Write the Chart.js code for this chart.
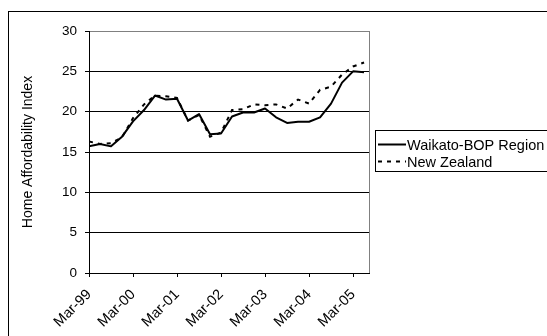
<!DOCTYPE html>
<html>
<head>
<meta charset="utf-8">
<script src="https://cdn.jsdelivr.net/npm/chart.js@4"></script>
<style>
  html, body { margin: 0; padding: 0; background: #fff; }
  canvas { display: block; }
</style>
</head>
<body>
<canvas id="chart" width="547" height="336"></canvas>
<script>
// Quarterly periods, March 1999 to June 2005
const quarters = [
  'Mar-99', 'Jun-99', 'Sep-99', 'Dec-99',
  'Mar-00', 'Jun-00', 'Sep-00', 'Dec-00',
  'Mar-01', 'Jun-01', 'Sep-01', 'Dec-01',
  'Mar-02', 'Jun-02', 'Sep-02', 'Dec-02',
  'Mar-03', 'Jun-03', 'Sep-03', 'Dec-03',
  'Mar-04', 'Jun-04', 'Sep-04', 'Dec-04',
  'Mar-05', 'Jun-05'
];

// Home affordability index by quarter
const waikatoBop = [
  15.7, 16.0, 15.7, 16.9,
  18.8, 20.2, 22.0, 21.5,
  21.6, 18.9, 19.7, 17.2,
  17.3, 19.4, 19.9, 19.9,
  20.4, 19.3, 18.6, 18.75,
  18.75, 19.3, 21.0, 23.6,
  25.0, 24.9
];

const newZealand = [
  16.3, 16.0, 16.1, 16.8,
  19.2, 20.9, 22.0, 21.9,
  21.7, 18.9, 19.6, 16.9,
  17.4, 20.2, 20.3, 20.9,
  20.8, 20.9, 20.4, 21.5,
  21.0, 22.7, 23.1, 24.6,
  25.6, 26.1
];

const seriesNames = ['Waikato-BOP Region', 'New Zealand'];

const FONT = 'Liberation Sans, Arial, Helvetica, sans-serif';
const toPoints = values => values.map((v, i) => ({ x: i, y: v }));

// White page, outer chart frame and grey plot-area border
const framePlugin = {
  id: 'frame',
  beforeDraw(chart) {
    const { ctx, chartArea: a } = chart;
    ctx.save();
    ctx.fillStyle = '#fff';
    ctx.fillRect(0, 0, chart.width, chart.height);
    ctx.strokeStyle = '#000';
    ctx.lineWidth = 1;
    ctx.strokeRect(8.5, 11.5, 600, 400);
    ctx.strokeStyle = '#808080';
    ctx.strokeRect(Math.round(a.left) + 0.5, Math.round(a.top) + 0.5,
                   Math.round(a.right - a.left), Math.round(a.bottom - a.top));
    ctx.restore();
  }
};

// Boxed legend to the right of the plot
const boxLegendPlugin = {
  id: 'boxLegend',
  afterDraw(chart) {
    const { ctx } = chart;
    const box = { x: 375.5, y: 130.5, w: 220, h: 41 };
    ctx.save();
    ctx.strokeStyle = '#000';
    ctx.lineWidth = 1;
    ctx.strokeRect(box.x, box.y, box.w, box.h);
    ctx.font = '14.5px ' + FONT;
    ctx.fillStyle = '#000';
    ctx.textBaseline = 'alphabetic';
    chart.data.datasets.forEach((ds, i) => {
      const baseY = 149.5 + i * 17;
      const midY = baseY - 5;
      ctx.beginPath();
      ctx.lineWidth = ds.borderWidth;
      ctx.strokeStyle = ds.borderColor;
      ctx.setLineDash(ds.borderDash || []);
      ctx.moveTo(378, midY);
      ctx.lineTo(406, midY);
      ctx.stroke();
      ctx.setLineDash([]);
      ctx.fillText(ds.label, 407, baseY);
    });
    ctx.restore();
  }
};

new Chart(document.getElementById('chart'), {
  type: 'line',
  data: {
    datasets: [
      {
        label: seriesNames[0],
        data: toPoints(waikatoBop),
        borderColor: '#000',
        borderWidth: 2,
        pointRadius: 0,
        tension: 0,
        borderJoinStyle: 'round'
      },
      {
        label: seriesNames[1],
        data: toPoints(newZealand),
        borderColor: '#000',
        borderWidth: 2,
        borderDash: [4, 5],
        pointRadius: 0,
        tension: 0
      }
    ]
  },
  options: {
    responsive: false,
    animation: false,
    devicePixelRatio: 1,
    layout: { padding: { top: 31, right: 178, bottom: 0, left: 0 } },
    plugins: {
      legend: { display: false },
      tooltip: { enabled: false }
    },
    scales: {
      x: {
        type: 'linear',
        min: 0,
        max: 25.45,
        // one labelled tick per year (every fourth quarter)
        afterBuildTicks: s => {
          s.ticks = quarters
            .map((q, i) => i)
            .filter(i => i % 4 === 0)
            .map(i => ({ value: i }));
        },
        afterFit: s => { s.height = 63; },
        ticks: {
          autoSkip: false,
          minRotation: 45,
          maxRotation: 45,
          padding: 9,
          color: '#000',
          font: { family: FONT, size: 14.5 },
          callback: v => quarters[v]
        },
        grid: {
          drawOnChartArea: false,
          drawTicks: true,
          tickLength: 4,
          color: '#000'
        },
        border: { color: '#000', width: 1 }
      },
      y: {
        min: 0,
        max: 30,
        afterFit: s => { s.width = 89; },
        ticks: {
          stepSize: 5,
          padding: 8,
          color: '#000',
          font: { family: FONT, size: 13.5 }
        },
        grid: {
          color: c => (c.tick && c.tick.value === 30 ? '#808080' : '#000'),
          tickColor: '#000',
          tickLength: 4
        },
        border: { color: '#000', width: 1 },
        title: {
          display: true,
          text: 'Home Affordability Index',
          color: '#000',
          font: { family: FONT, size: 14 },
          padding: { top: 20, bottom: 0 }
        }
      }
    }
  },
  plugins: [framePlugin, boxLegendPlugin]
});
</script>
</body>
</html>
